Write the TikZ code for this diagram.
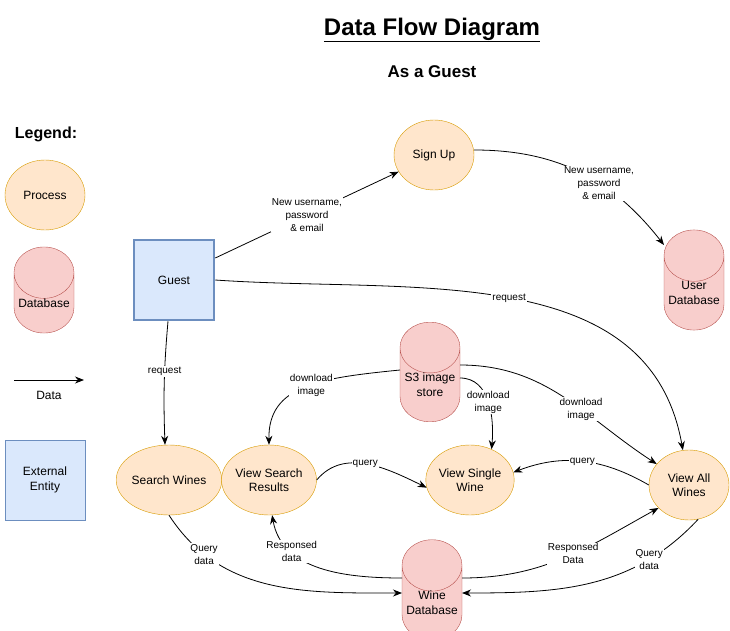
\documentclass[tikz,border=0pt]{standalone}
\usepackage{fontspec}
\setmainfont{Liberation Sans}
\usepackage{xcolor}
\usepackage{tikz}
\usetikzlibrary{arrows.meta}
\usetikzlibrary{shapes.geometric}
\usetikzlibrary{positioning}

\definecolor{procfill}{HTML}{FFE6CC}
\definecolor{procdraw}{HTML}{D79B00}
\definecolor{dbfill}{HTML}{F8CECC}
\definecolor{dbdraw}{HTML}{B85450}
\definecolor{entfill}{HTML}{DAE8FC}
\definecolor{entdraw}{HTML}{6C8EBF}

\begin{document}
\begin{tikzpicture}[x=1pt,y=-1pt,font=\fontsize{12}{14.5}\selectfont,
      proc style/.style={ellipse,draw=procdraw,fill=procfill,minimum
        width=80pt,minimum height=70pt,inner sep=0pt,align=center},
      db style/.style={cylinder,shape border rotate=90,aspect=1,draw=dbdraw,
        fill=dbfill,minimum width=60pt,minimum height=80pt,inner sep=0pt,
        align=center,anchor=shape center},
      ent style/.style={rectangle,draw=entdraw,fill=entfill,minimum
        size=80pt,align=center},
      flow style/.style={-{Stealth[length=9pt,width=7pt]},line width=0.8pt},
      lbl style/.style={fill=white,inner sep=1pt,align=center,
        font=\fontsize{10}{13}\selectfont}
      ]
      \useasboundingbox (0,0) rectangle (730,631);

      \node[font=\bfseries\fontsize{24}{28}\selectfont] (title) at (432,30) {\underline{Data Flow Diagram}};
      \node[font=\bfseries\fontsize{17}{20}\selectfont] (subtitle) at (432,72) {As a Guest};

      % legend
      \node[font=\bfseries\fontsize{16}{19}\selectfont] (legend) at (46,134) {Legend:};
      \node[proc style] (legproc) at (45,195) {Process};
      \node[db style] (legdb) at (44,290) {Database};
      \coordinate (legdata start) at (14,380);
      \coordinate (legdata end) at (84,380);
      \draw[flow style] (legdata start) -- (legdata end);
      \node (legdata) at (49,395) {Data};
      \node[ent style] (legent) at (45,480) {External\\Entity};

      \node[ent style, line width=2.5pt] (guest) at (174,280) {Guest};
      \node[proc style] (signup) at (434,155) {Sign Up};
      \node[db style] (userdb) at (694,280) {User\\Database};
      \node[db style] (s3store) at (430,372) {S3 image\\store};

      \node[proc style] (search) at (169,480) {Search Wines};
      \node[proc style] (viewsearch) at (269,480) {View Search\\Results};
      \node[proc style] (viewsingle) at (470,480) {View Single\\Wine};
      \node[proc style] (viewall) at (689,485) {View All\\Wines};
      \node[db style] (winedb) at (432,590) {Wine\\Database};

      \draw[flow style] ([yshift=22pt]guest.east) -- node[lbl style] {New username,\\password\\\& email} (signup);
      \draw[flow style] ([yshift=5pt]signup.east) to[out=0,in=128] node[lbl style,pos=0.6] {New username,\\password\\\& email} ([xshift=-30pt,yshift=35pt]userdb.shape center);
      \draw[flow style] (guest.east) to[out=-4,in=100] node[lbl style,pos=0.5] {request} (viewall);
      \draw[flow style] ([xshift=-6pt]guest.south) to[out=-95,in=92] node[lbl style,pos=0.4] {request} ([xshift=-4pt]search.north);

      \draw[flow style] ([xshift=-30pt,yshift=2pt]s3store.shape center) .. controls (320,378) and (268,385) .. node[lbl style,pos=0.45] {download\\image} (viewsearch.north);
      \draw[flow style] ([xshift=30pt,yshift=-6pt]s3store.shape center) to[out=0,in=85] node[lbl style,pos=0.5] {download\\image} (viewsingle.55);
      \draw[flow style] ([xshift=30pt,yshift=7pt]s3store.shape center) to[out=0,in=147] node[lbl style,pos=0.6] {download\\image} (viewall);

      \draw[flow style] (viewsearch.east) to[out=50,in=154] node[lbl style,pos=0.48] {query} (viewsingle.190);
      \draw[flow style] (viewall.west) to[out=150,in=21] node[lbl style,pos=0.5] {query} (viewsingle.10);

      \draw[flow style] (search.south) to[out=-57,in=180] node[lbl style,pos=0.2] {Query\\data} ([xshift=-30pt,yshift=-3pt]winedb.shape center);
      \draw[flow style] ([xshift=-30pt,yshift=12pt]winedb.shape center) to[out=180,in=-80] node[lbl style,pos=0.72] {Responsed\\data} (viewsearch.-85);
      \draw[flow style] ([xshift=30pt,yshift=12pt]winedb.shape center) to[out=0,in=209] node[lbl style,pos=0.55] {Responsed\\Data} (viewall.-143);
      \draw[flow style] (viewall.-75) to[out=-133,in=0] node[lbl style,pos=0.24] {Query\\data} ([xshift=30pt,yshift=-3pt]winedb.shape center);

    \end{tikzpicture}
\end{document}
